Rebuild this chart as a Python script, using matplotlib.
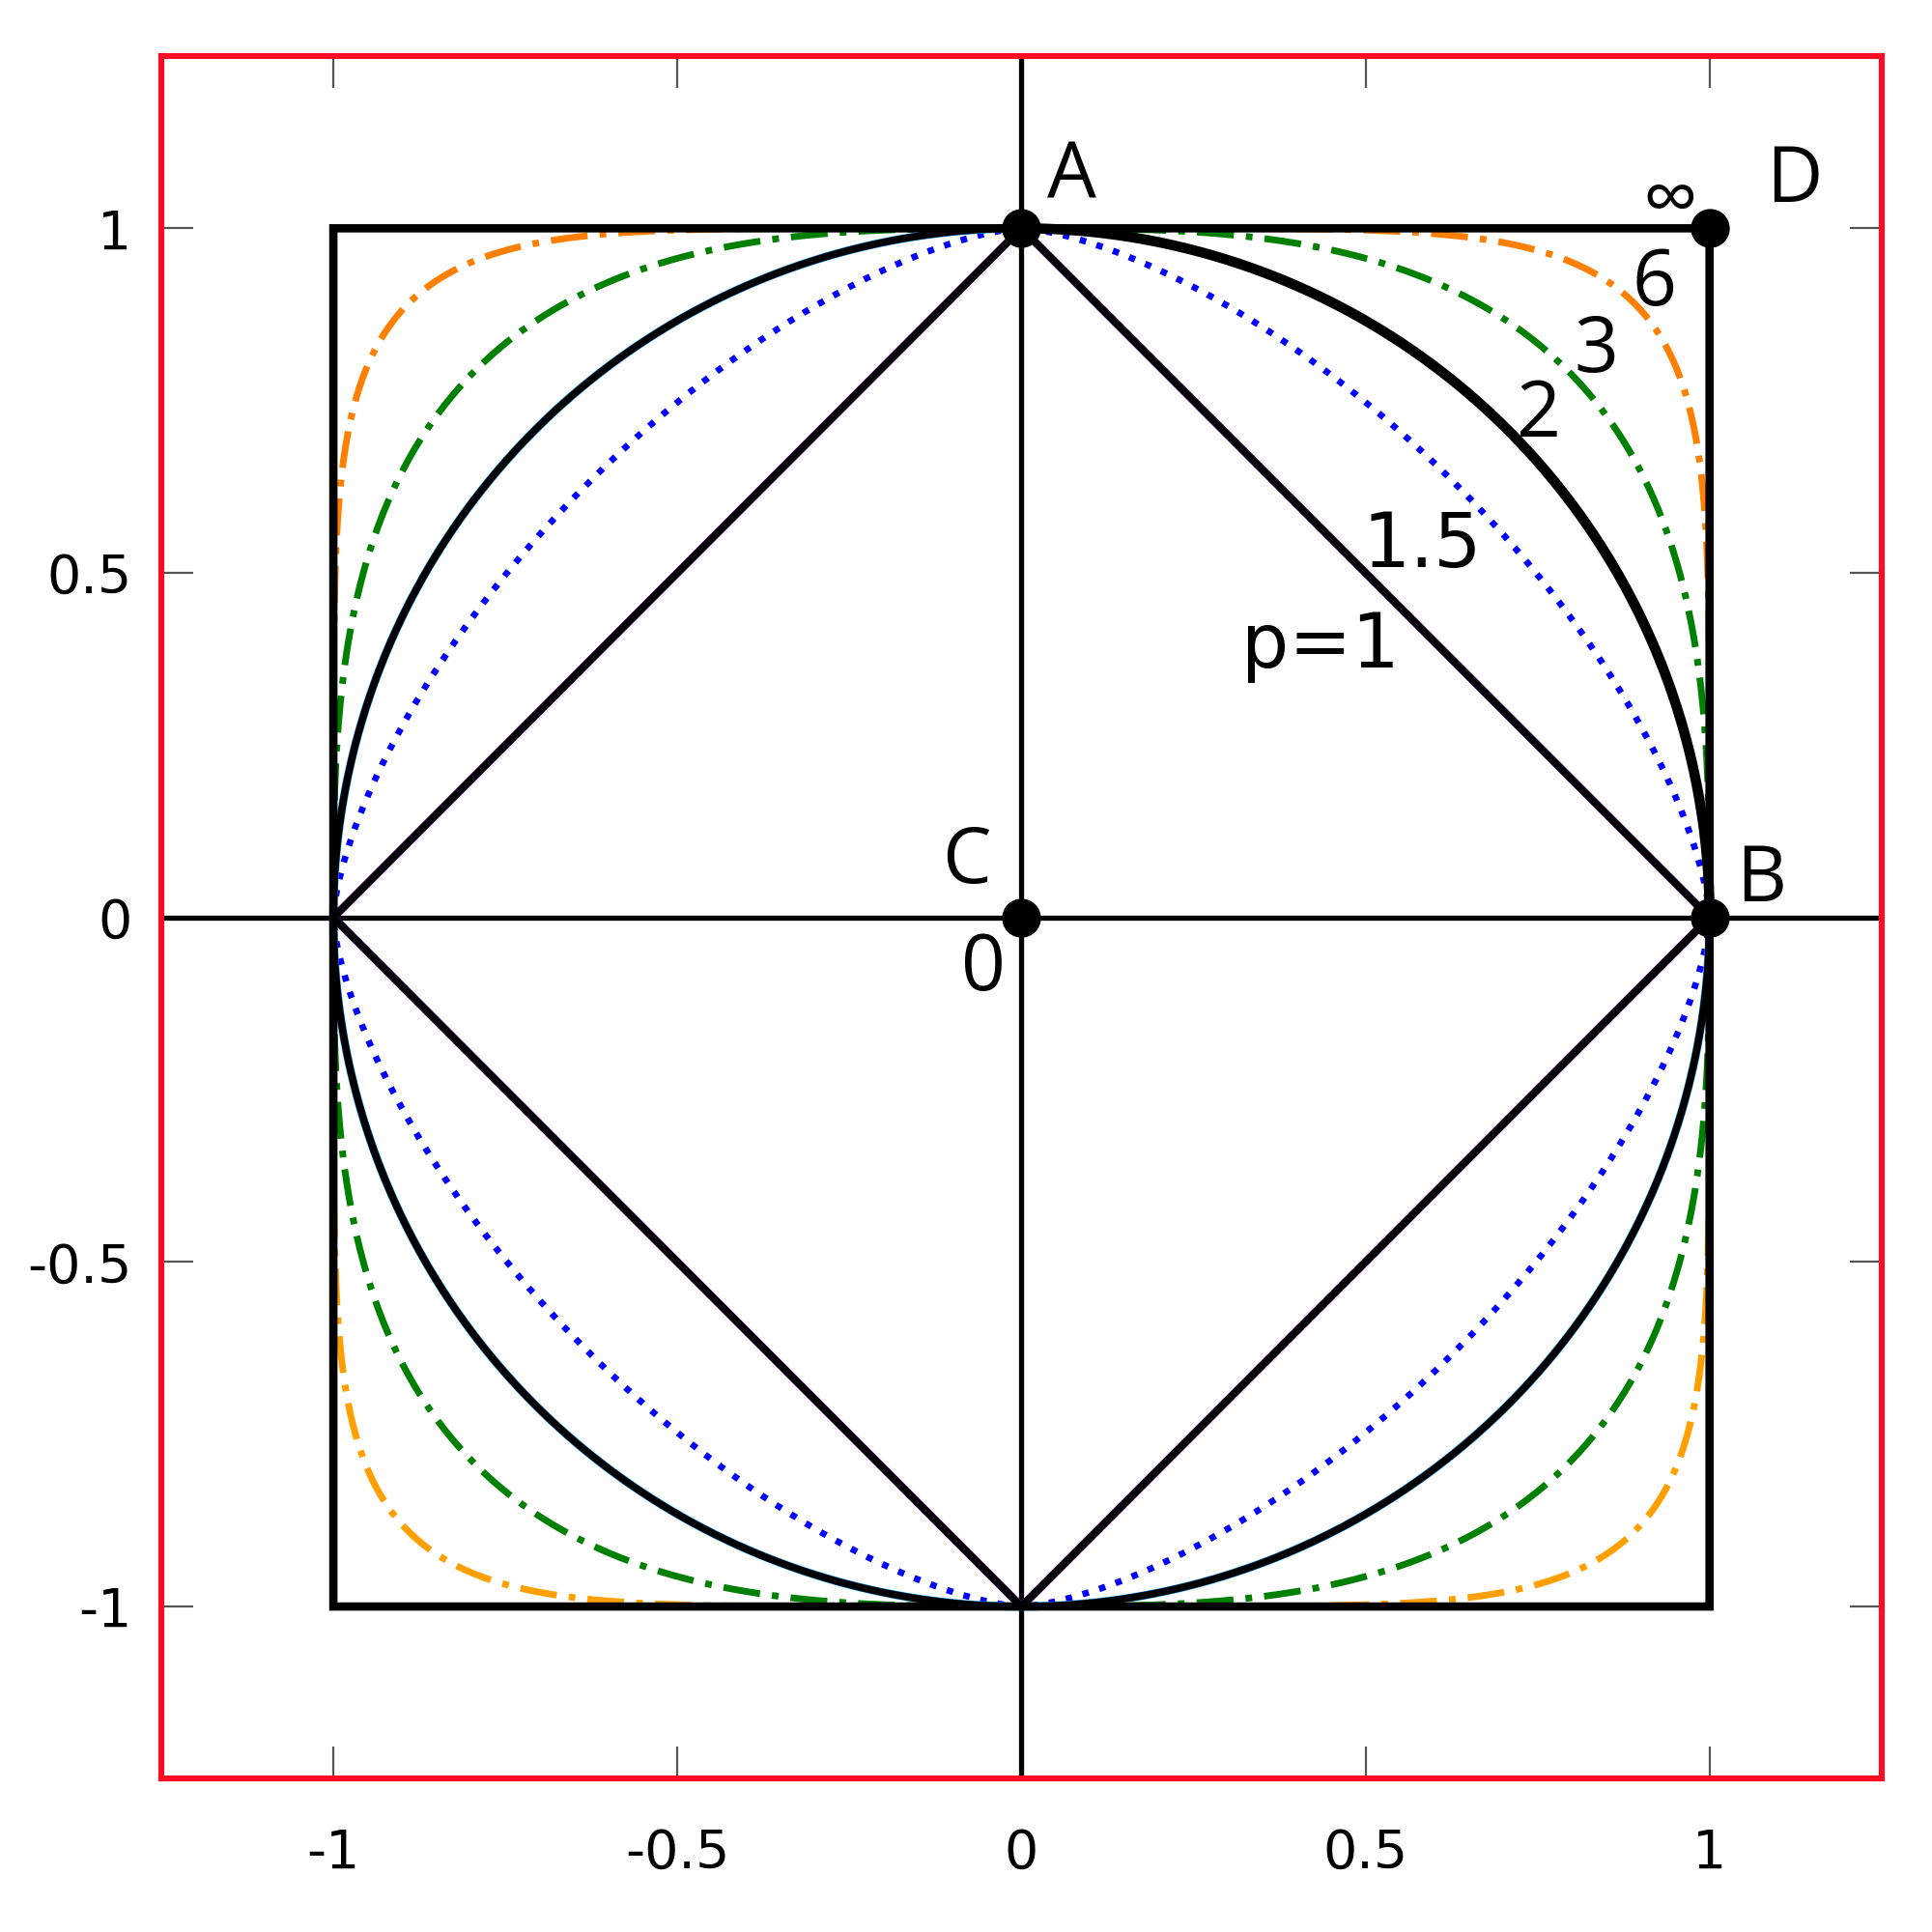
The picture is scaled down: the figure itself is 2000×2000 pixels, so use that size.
import numpy as np
import matplotlib.pyplot as plt

# unit balls of the p-norm
p_values = [1, 1.5, 2, 3, 6, np.inf]
curve_labels = ['p=1', '1.5', '2', '3', '6', '\u221e']

# marked points
point_names = ['A', 'B', 'C', 'D']
point_x = [0, 1, 0, 1]
point_y = [1, 0, 0, 1]

ticks = [-1, -0.5, 0, 0.5, 1]
tick_labels = ['-1', '-0.5', '0', '0.5', '1']


def unit_ball(p, n=4001):
    t = np.linspace(0, 2 * np.pi, n)
    c, s = np.cos(t), np.sin(t)
    if np.isinf(p):
        m = np.maximum(np.abs(c), np.abs(s))
        return c / m, s / m
    return np.sign(c) * np.abs(c) ** (2 / p), np.sign(s) * np.abs(s) ** (2 / p)


fig = plt.figure(figsize=(10, 10), dpi=200)
ax = fig.add_axes([0.0835, 0.0793, 0.8904, 0.8917])
ax.set_xlim(-1.25, 1.25)
ax.set_ylim(-1.25, 1.25)

ax.axhline(0, color='black', lw=1.9, zorder=2)
ax.axvline(0, color='black', lw=1.9, zorder=2)

dashdot = (5.5, 1.8, 1, 1.8)
for p in p_values:
    x, y = unit_ball(p)
    if p == 1:
        ax.plot(x, y, color='#8000c0', lw=3.0, zorder=3)
        ax.plot(x, y, color='black', lw=2.7, zorder=4)
    elif p == 1.5:
        ax.plot(x, y, color='#0000ff', lw=2.4, dashes=(1, 1.7), zorder=3)
    elif p == 2:
        ax.plot(x, y, color='#1aa3ff', lw=3.1, zorder=3)
        ax.plot(x, y, color='black', lw=2.7, zorder=4)
        q = (x >= 0) & (y >= 0)
        ax.plot(x[q], y[q], color='black', lw=3.8, zorder=4,
                solid_capstyle='butt')
    elif p == 3:
        ax.plot(x, y, color='#008000', lw=2.5, dashes=dashdot, zorder=3)
    elif p == 6:
        up = y >= 0
        ax.plot(x[up], y[up], color='#ff7f00', lw=2.5, dashes=dashdot, zorder=3)
        ax.plot(x[~up], y[~up], color='#ffa000', lw=2.5, dashes=dashdot, zorder=3)
    else:
        ax.plot(x, y, color='black', lw=3.1, zorder=5,
                solid_joinstyle='miter')

ax.plot(point_x, point_y, 'o', color='black', ms=13.5, zorder=6)

lab_font = ['Open Sans', 'DejaVu Sans']
point_text_pos = [(0.073, 1.045), (1.075, 0.023), (-0.080, 0.05), (1.123, 1.038)]
for name, (tx, ty) in zip(point_names, point_text_pos):
    ax.text(tx, ty, name, fontsize=29, family=lab_font,
            ha='center', va='baseline', zorder=7)
ax.text(-0.055, -0.105, '0', fontsize=29, family=lab_font,
        ha='center', va='baseline', zorder=7)

curve_text_pos = [(0.434, 0.3625), (0.583, 0.509), (0.752, 0.698),
                  (0.836, 0.791), (0.920, 0.889), (0.943, 1.006)]
for lab, (tx, ty) in zip(curve_labels, curve_text_pos):
    if lab in ('p=1', '1.5'):
        ax.text(tx, ty, lab, fontsize=28, family=['DejaVu Sans'],
                ha='center', va='baseline', zorder=7)
    else:
        ax.text(tx, ty, lab, fontsize=29, family=lab_font,
                ha='center', va='baseline', zorder=7)

ax.set_xticks(ticks)
ax.set_xticklabels(tick_labels)
ax.set_yticks(ticks)
ax.set_yticklabels(tick_labels)
ax.tick_params(direction='in', length=12, width=0.8, color='#555555',
               top=True, right=True, labelsize=20)
ax.tick_params(axis='x', pad=18)
ax.tick_params(axis='y', pad=11)

for sp in ax.spines.values():
    sp.set_color('#ff0b24')
    sp.set_linewidth(2.2)
    sp.set_zorder(8)

fig.savefig('out.png', dpi=200)
